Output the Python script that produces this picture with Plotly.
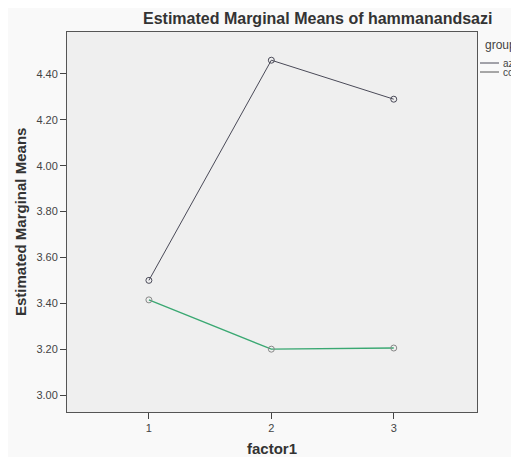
import plotly.graph_objects as go

factor_levels = [1, 2, 3]
group_names = ["azeri", "control"]
aze_means = [3.50, 4.46, 4.29]
control_means = [3.415, 3.20, 3.205]
y_ticks = [3.00, 3.20, 3.40, 3.60, 3.80, 4.00, 4.20, 4.40]

OFF = 8  # page body margin
W, H = 519 - OFF, 457 - OFF
L, R, T, B = 67 - OFF, 42, 32 - OFF, 45
PW, PH = W - L - R, H - T - B

aze_color = "#4a4a58"
con_color = "#3aa872"
FONT = "Liberation Sans, Arial"

fig = go.Figure()
fig.add_trace(go.Scatter(
    x=factor_levels, y=aze_means, mode="lines+markers", name=group_names[0],
    line=dict(color=aze_color, width=1),
    marker=dict(symbol="circle-open", size=6, color=aze_color, line=dict(width=1)),
))
fig.add_trace(go.Scatter(
    x=factor_levels, y=control_means, mode="lines+markers", name=group_names[1],
    line=dict(color=con_color, width=1.3),
    marker=dict(symbol="circle-open", size=6, color="#888888", line=dict(width=1)),
))

axis_common = dict(
    showline=True, linecolor="#555555", linewidth=1, mirror=True,
    ticks="outside", ticklen=6, tickcolor="#444444", tickwidth=1,
    showgrid=False, zeroline=False,
    tickfont=dict(family=FONT, size=11, color="#444444"),
)

fig.update_layout(
    width=W, height=H, autosize=False,
    margin=dict(l=L, r=R, t=T, b=B, pad=0),
    paper_bgcolor="#f9f9f9", plot_bgcolor="#efefef",
    showlegend=False,
    xaxis=dict(range=[0.331, 3.68], tickvals=factor_levels,
               ticktext=[str(v) for v in factor_levels], **axis_common),
    yaxis=dict(range=[2.926, 4.583], tickvals=y_ticks,
               ticktext=[f"{v:.2f}" for v in y_ticks], **axis_common),
)


def px_x(px):
    return (px - OFF - L) / PW


def px_y(py):
    return 1 - (py - OFF - T) / PH


def ann(text, x, y, size, xanchor="center", angle=0, color="#333333"):
    return dict(text=text, x=px_x(x), y=px_y(y), xref="paper", yref="paper",
                xanchor=xanchor, yanchor="middle", showarrow=False, textangle=angle,
                font=dict(family=FONT, size=size, color=color))


annotations = [
    ann("<b>Estimated Marginal Means of hammanandsazi</b>", 317, 18, 16),
    ann("<b>factor1</b>", 272, 448, 15),
    ann("<b>Estimated Marginal Means</b>", 20, 222, 15, angle=-90),
    ann("group", 483, 45, 12, xanchor="left", color="#444444"),
]
legend_rows = [(group_names[0], aze_color, 63), (group_names[1], "#555555", 72)]
shapes = []
for name, col, yy in legend_rows:
    annotations.append(ann(name, 501, yy, 10, xanchor="left", color="#444444"))
    shapes.append(dict(type="line", xref="paper", yref="paper",
                       x0=px_x(480), x1=px_x(499), y0=px_y(yy), y1=px_y(yy),
                       line=dict(color=col, width=1)))
fig.update_layout(annotations=annotations, shapes=shapes)

fig.write_html("out.html")
